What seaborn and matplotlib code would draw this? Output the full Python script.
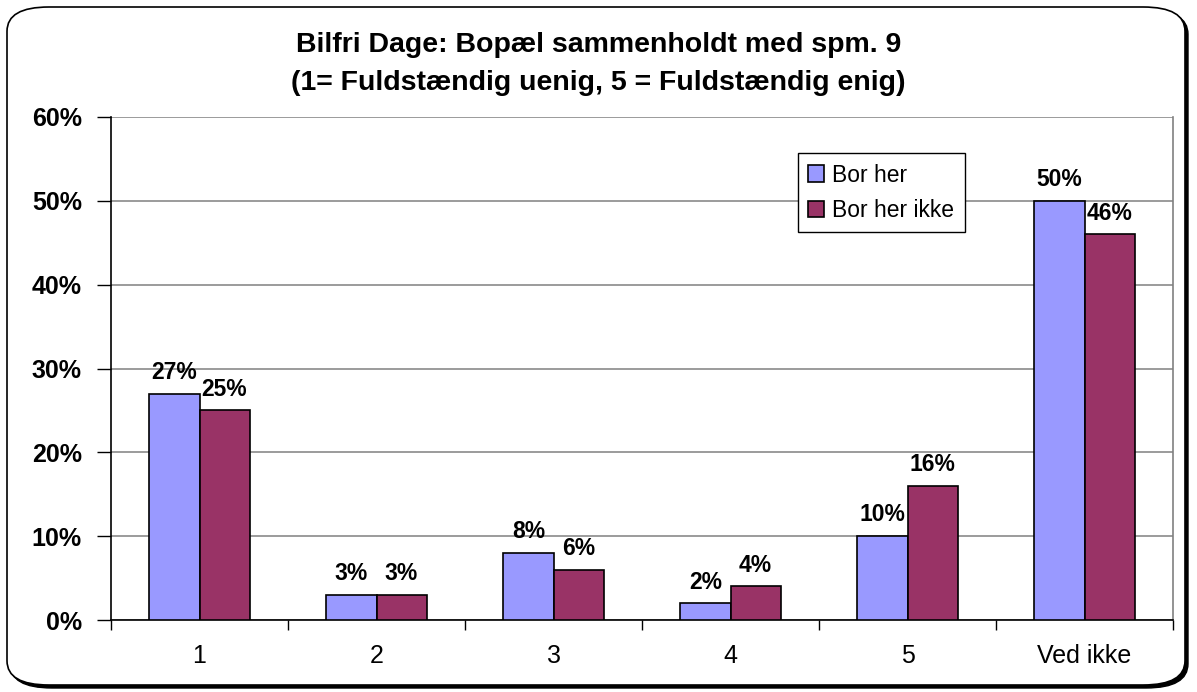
import matplotlib
matplotlib.use("Agg")
import matplotlib.pyplot as plt
from matplotlib.patches import FancyBboxPatch
from matplotlib.ticker import MultipleLocator, FixedLocator, PercentFormatter
import seaborn as sns
import pandas as pd

# Survey answers (1 = fully disagree, 5 = fully agree)
categories = ["1", "2", "3", "4", "5", "Ved ikke"]
series_names = ["Bor her", "Bor her ikke"]
bor_her = [27, 3, 8, 2, 10, 50]
bor_her_ikke = [25, 3, 6, 4, 16, 46]
colors = ["#9999FF", "#993366"]

df = pd.DataFrame({
    "svar": categories * 2,
    "gruppe": [series_names[0]] * len(categories) + [series_names[1]] * len(categories),
    "andel": bor_her + bor_her_ikke,
})

sns.set_theme(style="white")
plt.rcParams["font.family"] = ["Liberation Sans", "DejaVu Sans"]
plt.rcParams.update({"text.color": "black", "axes.labelcolor": "black",
                     "xtick.color": "black", "ytick.color": "black"})

fig = plt.figure(figsize=(11.97, 6.92), dpi=100)

# Rounded chart frame with a drop shadow
W, H = 1197, 692
shadow = FancyBboxPatch((10 / W, 4 / H), 1178 / W, 678 / H,
                        boxstyle="round,pad=0,rounding_size=0.035",
                        transform=fig.transFigure, facecolor="black",
                        edgecolor="black", lw=1, zorder=0)
frame = FancyBboxPatch((7 / W, 7 / H), 1178 / W, 678 / H,
                       boxstyle="round,pad=0,rounding_size=0.035",
                       transform=fig.transFigure, facecolor="white",
                       edgecolor="black", lw=1.2, zorder=1)
fig.patches.extend([shadow, frame])

ax = fig.add_axes([111 / W, 1 - 620 / H, 1062 / W, 503 / H])
ax.set_zorder(2)
ax.patch.set_alpha(0)

sns.barplot(data=df, x="svar", y="andel", hue="gruppe", order=categories,
            hue_order=series_names, palette=colors, width=0.565,
            edgecolor="black", linewidth=1.2, saturation=1, ax=ax, zorder=3)

for cont in ax.containers:
    ax.bar_label(cont, fmt="%.0f%%", padding=7, fontsize=16.5,
                 fontweight="bold", color="black", zorder=5)

ax.set_ylim(0, 60)
ax.set_xlim(-0.5, len(categories) - 0.5)
ax.yaxis.set_major_locator(MultipleLocator(10))
ax.yaxis.set_major_formatter(PercentFormatter(decimals=0))
ax.grid(axis="y", color="#808080", lw=1.1, zorder=0)
ax.set_axisbelow(True)

# Category boundary ticks on the x axis
ax.xaxis.set_minor_locator(FixedLocator([i + 0.5 for i in range(-1, len(categories))]))
ax.tick_params(axis="x", which="major", length=0, pad=17, labelsize=18)
ax.tick_params(axis="x", which="minor", length=7, width=1, color="black",
               direction="out", bottom=True)
ax.tick_params(axis="y", which="major", length=10, width=1, color="black",
               direction="out", left=True, pad=11, labelsize=18)
for lbl in ax.get_yticklabels():
    lbl.set_fontweight("bold")

ax.set_xlabel("")
ax.set_ylabel("")

for side in ["left", "bottom"]:
    ax.spines[side].set_visible(True)
    ax.spines[side].set_color("black")
    ax.spines[side].set_linewidth(1.2)
ax.spines["right"].set_visible(True)
ax.spines["right"].set_color("#808080")
ax.spines["right"].set_linewidth(1.2)
ax.spines["top"].set_visible(False)

leg = ax.legend(loc="upper left", bbox_to_anchor=(0.647, 0.928),
                fontsize=16.5, frameon=True, fancybox=False, framealpha=1,
                edgecolor="black", handlelength=0.7, handleheight=0.7,
                handletextpad=0.35, labelspacing=0.55, borderpad=0.45,
                borderaxespad=0)
leg.get_frame().set_linewidth(1.0)
for h in leg.legend_handles:
    h.set_edgecolor("black")
    h.set_linewidth(1.2)
for t in leg.get_texts():
    t.set_color("black")

fig.text(0.5, 1 - 45 / H, "Bilfri Dage: Bopæl sammenholdt med spm. 9",
         ha="center", va="center", fontsize=20.5, fontweight="bold", zorder=4)
fig.text(0.5, 1 - 83 / H, "(1= Fuldstændig uenig, 5 = Fuldstændig enig)",
         ha="center", va="center", fontsize=20.5, fontweight="bold", zorder=4)

fig.savefig("out.png", dpi=100)
